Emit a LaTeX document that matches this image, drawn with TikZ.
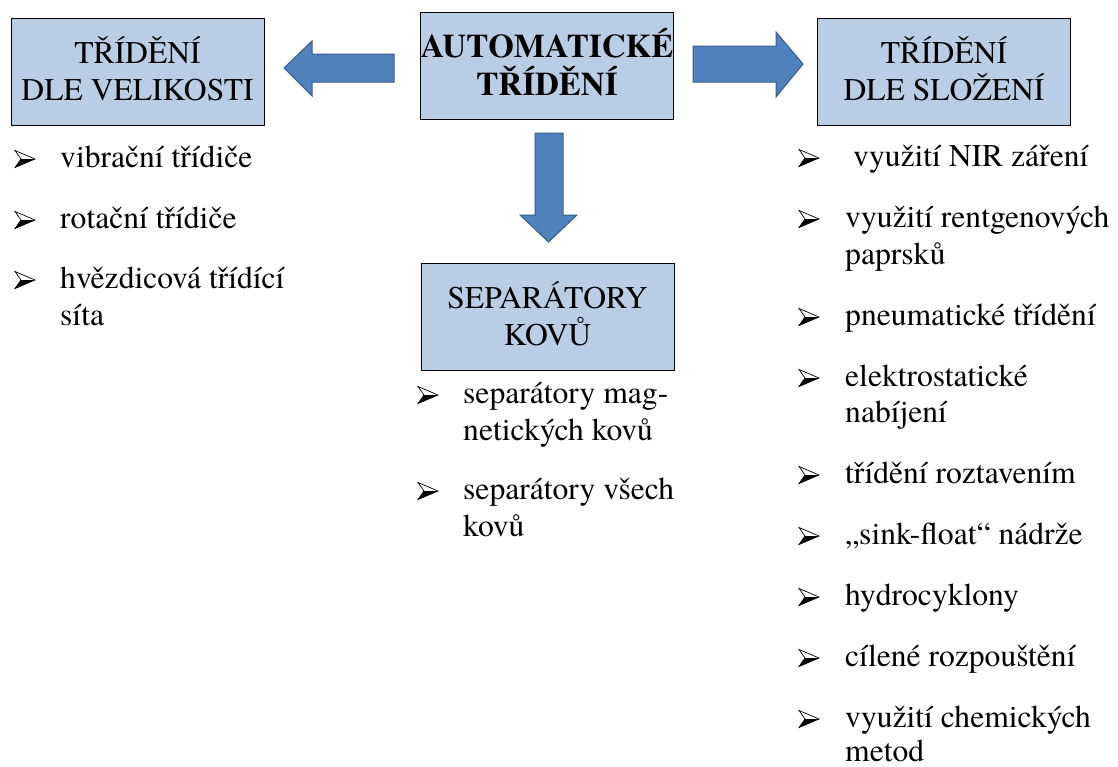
\documentclass[tikz,border=0pt]{standalone}
\usepackage{fontspec}
\setmainfont{texgyretermes}[Extension=.otf,
  UprightFont=*-regular, BoldFont=*-bold,
  ItalicFont=*-italic, BoldItalicFont=*-bolditalic]
\definecolor{boxblue}{HTML}{B9CDE5}
\definecolor{arrowblue}{HTML}{4F81BD}
\definecolor{arrowedge}{HTML}{385D8A}
% first line of a box title: counts only as tall as a capital
\newcommand\capline[1]{\smash{#1}\vphantom{T}}
\begin{document}
\begin{tikzpicture}[x=1pt,y=-1pt,
  box/.style={draw=black, line width=1pt, fill=boxblue,
    minimum width=253pt, minimum height=107pt, inner sep=0pt,
    align=center, font=\fontsize{31.6}{36.8}\selectfont},
  itemtext/.style={anchor=base west, inner sep=0pt,
    font=\fontsize{31.6}{36.8}\selectfont},
  blockarrow/.style={fill=arrowblue, draw=arrowedge, line width=1pt,
    line join=miter},
  arrowbullet/.pic={
    \filldraw[fill=white, draw=black, line width=0.7pt, line join=miter]
      (0,-8.5) -- (20,0) -- (0,8.5) -- (6,0) -- cycle;
    \fill[black] (6,0) -- (20,0) -- (0,8.5) -- cycle;
  }]
\useasboundingbox (0,0) rectangle (1118,766);

% title boxes
\node[box] (vel) at (137.5,71.5) {\capline{TŘÍDĚNÍ}\\DLE VELIKOSTI};
\node[box, font=\fontsize{33}{38.5}\selectfont\bfseries] (auto) at (547,65.5)
  {\capline{AUTOMATICKÉ}\\TŘÍDĚNÍ};
\node[box] (slo) at (944,71.5) {\capline{TŘÍDĚNÍ}\\DLE SLOŽENÍ};
\node[box] (sep) at (547.5,316.5) {\capline{SEPARÁTORY}\\KOVŮ};

% block arrows leading out of the central box
\draw[blockarrow] (394,54) -- (312,54) -- (312,41) -- (284,68)
  -- (312,96) -- (312,82) -- (394,82) -- cycle;
\draw[blockarrow] (693,46) -- (776,46) -- (776,32) -- (803,64)
  -- (776,97) -- (776,82) -- (693,82) -- cycle;
\draw[blockarrow] (535,133) -- (563,133) -- (563,215) -- (577,215)
  -- (548.5,242) -- (520,215) -- (535,215) -- cycle;

% sorting by size
\pic at (15,159) {arrowbullet};
\node[itemtext] (v1) at (60,167) {vibrační třídiče};
\pic at (15,220) {arrowbullet};
\node[itemtext] (v2) at (60,228) {rotační třídiče};
\pic at (15,280) {arrowbullet};
\node[itemtext] (v3) at (60,288) {hvězdicová třídící};
\node[itemtext] (v3b) at (60,325) {síta};

% metal separators
\pic at (418,395) {arrowbullet};
\node[itemtext] (k1) at (463,403) {separátory mag-};
\node[itemtext] (k1b) at (463,440) {netických kovů};
\pic at (418,491) {arrowbullet};
\node[itemtext] (k2) at (463,499) {separátory všech};
\node[itemtext] (k2b) at (463,536) {kovů};

% sorting by composition
\pic at (799,158) {arrowbullet};
\node[itemtext] (s1) at (853,166) {využití NIR záření};
\pic at (799,219) {arrowbullet};
\node[itemtext] (s2) at (845,227) {využití rentgenových};
\node[itemtext] (s2b) at (845,264) {paprsků};
\pic at (799,317) {arrowbullet};
\node[itemtext] (s3) at (845,325) {pneumatické třídění};
\pic at (799,378) {arrowbullet};
\node[itemtext] (s4) at (845,386) {elektrostatické};
\node[itemtext] (s4b) at (845,422) {nabíjení};
\pic at (799,475) {arrowbullet};
\node[itemtext] (s5) at (845,483) {třídění roztavením};
\pic at (799,536) {arrowbullet};
\node[itemtext] (s6) at (845,544) {„sink-float“ nádrže};
\pic at (799,597) {arrowbullet};
\node[itemtext] (s7) at (845,605) {hydrocyklony};
\pic at (799,658) {arrowbullet};
\node[itemtext] (s8) at (845,666) {cílené rozpouštění};
\pic at (799,719) {arrowbullet};
\node[itemtext] (s9) at (845,727) {využití chemických};
\node[itemtext] (s9b) at (845,761) {metod};
\end{tikzpicture}
\end{document}
